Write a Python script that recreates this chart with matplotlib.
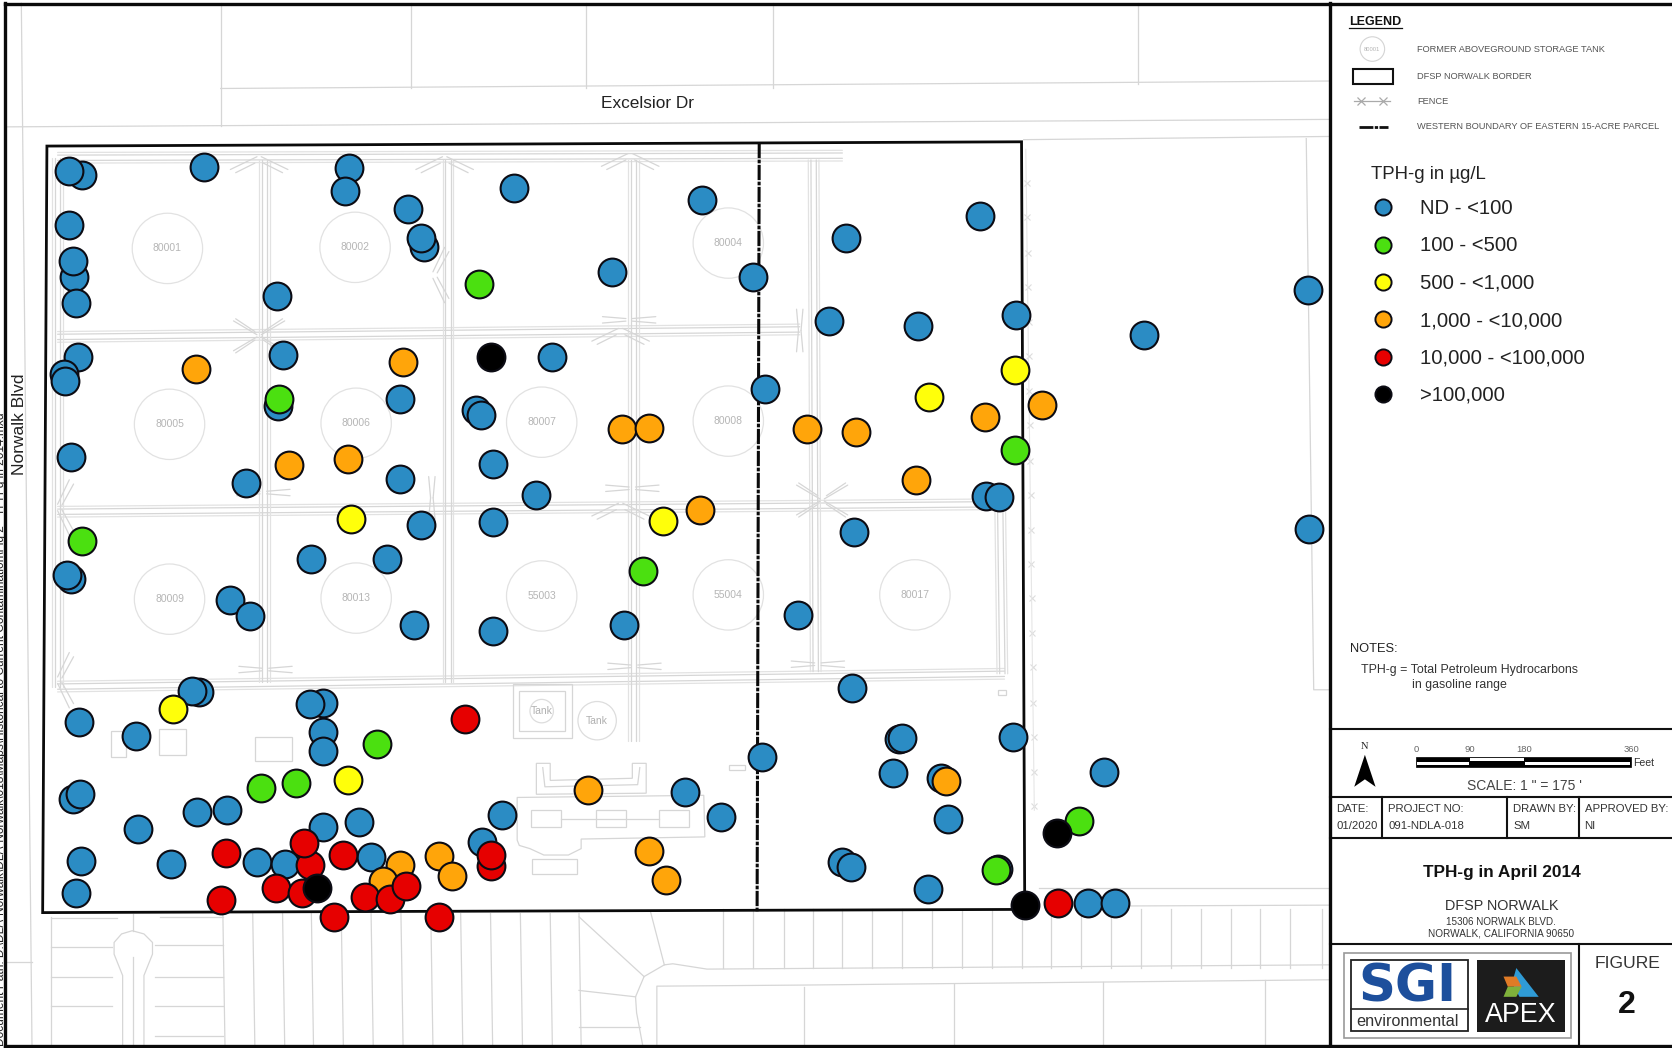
"""
TPH-g in April 2014 at DFSP Norwalk: well locations over a pale site plan.
Map coordinates below are read off the figure.
"""

import matplotlib

matplotlib.use("Agg")
import matplotlib.pyplot as plt
from matplotlib.patches import Circle, Polygon, Rectangle

plt.rcParams["font.family"] = ["Liberation Sans", "DejaVu Sans"]

W, H = 1568, 983

BLUE_X = [77, 65, 191, 327, 324, 383, 398, 395, 482, 658, 793, 919, 574, 706, 65, 69, 68, 71, 260, 1227,
          953, 777, 861, 1073, 73, 60, 61, 265, 518, 375, 261, 446, 451, 717, 67, 231, 375, 462, 503, 925,
          937, 395, 462, 801, 1228, 292, 363, 67, 63, 216, 234, 388, 462, 585, 748, 799, 187, 180, 74, 128,
          303, 291, 303, 303, 843, 846, 950, 715, 837, 1035, 882, 68, 75, 129, 185, 213, 303, 337, 471, 642,
          676, 889, 452, 76, 160, 241, 267, 348, 790, 798, 71, 870, 936, 1020, 1046]
BLUE_Y = [164, 160, 157, 158, 179, 196, 232, 223, 176, 188, 223, 203, 255, 260, 211, 260, 245, 284, 278, 272,
          295, 301, 306, 314, 335, 351, 357, 333, 335, 374, 381, 385, 389, 365, 429, 453, 449, 435, 464, 465,
          466, 492, 490, 499, 496, 524, 524, 543, 539, 563, 578, 586, 592, 586, 577, 645, 649, 648, 677, 690,
          659, 660, 687, 704, 693, 692, 691, 710, 725, 724, 730, 749, 745, 778, 762, 760, 776, 771, 764, 743,
          766, 768, 790, 808, 810, 809, 810, 804, 809, 813, 838, 834, 815, 847, 847]
GREEN_X = [449, 262, 77, 952, 603, 354, 245, 278, 1012, 934]
GREEN_Y = [266, 374, 507, 422, 536, 698, 739, 734, 770, 816]
YELLOW_X = [952, 871, 329, 622, 162, 326]
YELLOW_Y = [347, 372, 487, 489, 665, 732]
ORANGE_X = [184, 378, 977, 924, 583, 609, 757, 803, 271, 326, 859, 656, 551, 887, 609, 625, 412, 424, 375, 359]
ORANGE_Y = [346, 340, 380, 391, 402, 401, 402, 405, 436, 431, 450, 478, 741, 733, 798, 825, 803, 822, 811, 826]
RED_X = [436, 212, 291, 285, 322, 460, 460, 259, 283, 207, 342, 366, 381, 313, 412, 992]
RED_Y = [674, 800, 811, 791, 802, 812, 802, 833, 838, 844, 841, 843, 831, 860, 860, 847]
BLACK_X = [460, 991, 297, 961]
BLACK_Y = [335, 781, 833, 849]

CLASS_LABELS = ["ND - <100", "100 - <500", "500 - <1,000", "1,000 - <10,000", "10,000 - <100,000", ">100,000"]
CLASS_COLORS = ["#2b8cc4", "#4be010", "#ffff0a", "#ffa50a", "#e60000", "#000000"]

TANK_NAMES = ["80001", "80002", "80004", "80005", "80006", "80007", "80008", "80009", "80013", "55003", "55004", "80017"]
TANK_X = [157, 333, 683, 159, 334, 508, 683, 159, 334, 508, 683, 858]
TANK_Y = [233, 232, 228, 398, 397, 396, 395, 562, 561, 559, 558, 558]

SITE_BORDER = [(44, 137), (958, 133), (961, 853), (40, 856)]

# double fence runs: x0, y0, x1, y1
FENCES = [
    (54, 148, 790, 146), (54, 316, 750, 309), (54, 480, 935, 473), (54, 644, 942, 632),
    (54, 148, 54, 644), (248, 150, 248, 640), (420, 150, 420, 640), (594, 150, 594, 695),
    (763, 150, 765, 630), (938, 476, 940, 632),
]
ARROW_GATES = [(243, 155), (417, 155), (591, 152), (582, 316), (582, 480)]
BAR_GATES = [(247, 462), (593, 458), (249, 628), (595, 625), (767, 623), (590, 300)]
STAR_GATES = [(243, 315), (771, 469)]
SIDE_GATES = [(60, 476), (60, 638), (412, 258)]
POST_GATES = [(750, 310), (405, 467)]
EAST_FENCE_Y = [172, 204, 237, 269, 302, 334, 367, 399, 432, 464, 497, 529, 561, 594, 626, 659, 691, 724, 756]

ROAD_LINES = [
    [(20, 3), (30, 981)], [(5, 902), (30, 902)],
    [(207, 3), (207, 118)], [(385, 3), (385, 83)], [(550, 3), (550, 83)],
    [(725, 3), (725, 83)], [(1067, 3), (1067, 79)], [(207, 83), (1246, 76)], [(5, 119), (1246, 112)],
    [(960, 131), (1246, 128)], [(1225, 130), (1232, 647), (1246, 647)],
    [(974, 833), (1246, 833)], [(1000, 850), (1246, 849)],
    [(1246, 905), (663, 909), (631, 904), (623, 905), (604, 916), (596, 935), (597, 950), (603, 982)],
    [(616, 982), (616, 925), (750, 924), (1246, 919)],
    [(543, 860), (604, 916)], [(610, 855), (623, 905)], [(543, 929), (596, 935)], [(543, 963), (600, 963)],
    [(754, 926), (754, 981)], [(895, 923), (895, 981)], [(1034, 921), (1034, 981)], [(1186, 919), (1186, 981)],
    [(48, 860), (48, 981)], [(48, 861), (110, 861)], [(48, 888), (105, 888)], [(48, 916), (105, 916)],
    [(48, 944), (105, 944)], [(150, 860), (209, 860)], [(145, 886), (209, 886)], [(145, 916), (209, 916)],
    [(145, 944), (209, 944)], [(145, 972), (209, 972)],
    [(115, 981), (115, 915), (107, 895), (107, 884), (114, 876), (124, 873), (135, 876), (143, 884),
     (143, 895), (135, 915), (135, 981)],
    [(125, 857), (125, 873)], [(125, 898), (125, 981)],
]
LOT_LINE_X = [209, 237, 265, 292, 320, 348, 376, 404, 432, 460, 488, 516, 543]
EAST_LOT_X = [678, 706, 735, 762, 790, 818, 846, 874, 902, 930, 958, 986, 1014, 1042, 1070, 1098, 1126, 1154, 1182, 1210, 1240]

BUILDINGS = [
    (104, 686, 14, 24), (149, 684, 25, 24), (239, 691, 35, 23), (498, 760, 28, 16), (559, 760, 28, 16),
    (618, 760, 28, 16), (684, 718, 15, 4), (499, 806, 42, 14), (936, 647, 7, 5),
]
PLANT_OUTLINE = [(485, 748), (660, 746), (661, 785), (545, 787), (545, 796), (533, 802), (510, 802),
                 (497, 796), (487, 793), (485, 788)]
BERM_OUTLINE = [(503, 716), (516, 716), (516, 732), (593, 730), (593, 716), (606, 716), (606, 744), (503, 745)]
BERM_INNER = [(509, 720), (511, 738), (598, 736), (600, 720)]
TANK_PAD = [(481, 642), (536, 642), (536, 692), (481, 692)]

GREY = "#d6d6d6"
PALE = "#e2e2e2"


def seg(ax, x0, y0, x1, y1, color=GREY):
    ax.plot([x0, x1], [y0, y1], color=color, lw=0.9, zorder=1, solid_capstyle="round")


def fence(ax, x0, y0, x1, y1):
    vertical = abs(y1 - y0) > abs(x1 - x0)
    for off, col in ((-5, PALE), (-2.5, GREY), (2.5, GREY), (5, PALE)):
        dx, dy = (off, 0) if vertical else (0, off)
        seg(ax, x0 + dx, y0 + dy, x1 + dx, y1 + dy, col)


def draw_gates(ax):
    # white gaps first so the gate shapes read over the fence lines
    for x, y in ARROW_GATES:
        for s in (-1, 1):
            seg(ax, x + s * 2, y - 8, x + s * 27, y + 4)
            seg(ax, x + s * 4, y - 2, x + s * 22, y + 7)
    for x, y in BAR_GATES:
        for dy in (-3, 3):
            seg(ax, x - 25, y + dy, x - 3, y + dy * 0.4)
            seg(ax, x + 3, y + dy * 0.4, x + 25, y + dy)
    for x, y in STAR_GATES:
        for sx in (-1, 1):
            for sy in (-1, 1):
                seg(ax, x + sx * 2, y + sy, x + sx * 24, y + sy * 14)
                seg(ax, x + sx * 4, y + sy * 4, x + sx * 22, y + sy * 16)
    for x, y in SIDE_GATES:
        for s in (-1, 1):
            seg(ax, x - 6, y + s * 3, x + 5, y + s * 26)
            seg(ax, x - 2, y + s * 2, x + 9, y + s * 22)
    for x, y in POST_GATES:
        for dx in (-3, 3):
            seg(ax, x + dx, y - 20, x + dx * 0.4, y)
            seg(ax, x + dx * 0.4, y, x + dx, y + 20)


def draw_base_map(ax):
    for line in ROAD_LINES:
        ax.plot([p[0] for p in line], [p[1] for p in line], color=GREY, lw=0.9, zorder=1)
    for x in LOT_LINE_X:
        ax.plot([x, x + 2], [857, 981], color=GREY, lw=0.9, zorder=1)
    for x in EAST_LOT_X:
        ax.plot([x, x], [853, 908], color=GREY, lw=0.9, zorder=1)
    for f in FENCES:
        fence(ax, *f)
    draw_gates(ax)
    ax.plot([963 + (y - 172) * 0.012 for y in EAST_FENCE_Y], EAST_FENCE_Y, ls="", marker="x", ms=5,
            mec="#dddddd", mew=0.8, zorder=1)
    ax.plot([962, 970], [140, 760], color="#e6e6e6", lw=0.8, zorder=1)

    for name, x, y in zip(TANK_NAMES, TANK_X, TANK_Y):
        ax.add_patch(Circle((x, y), 33, fc="white", ec="#e2e2e2", lw=0.9, zorder=1.5))
        ax.text(x, y, name, color="#b5b5b5", fontsize=7.5, ha="center", va="center", zorder=1.6)
    ax.add_patch(Circle((560, 676), 18, fc="none", ec="#dddddd", lw=0.9, zorder=1))
    ax.add_patch(Circle((508, 667), 11, fc="none", ec="#dddddd", lw=0.9, zorder=1))
    ax.text(560, 676, "Tank", color="#b0b0b0", fontsize=7.5, ha="center", va="center", zorder=1)
    ax.text(508, 667, "Tank", color="#b0b0b0", fontsize=7.5, ha="center", va="center", zorder=1)

    for x, y, w, h in BUILDINGS:
        ax.add_patch(Rectangle((x, y), w, h, fc="none", ec=GREY, lw=0.9, zorder=1))
    ax.plot([526, 559, 587, 618], [768, 768, 768, 768], color=GREY, lw=0.9, zorder=1)
    for outline in (PLANT_OUTLINE, BERM_OUTLINE, TANK_PAD):
        ax.add_patch(Polygon(outline, closed=True, fc="none", ec=GREY, lw=0.9, zorder=1))
    ax.plot([p[0] for p in BERM_INNER], [p[1] for p in BERM_INNER], color=GREY, lw=0.9, zorder=1)
    ax.add_patch(Rectangle((487, 648), 43, 38, fc="none", ec=GREY, lw=0.9, zorder=1))

    ax.text(607, 97, "Excelsior Dr", fontsize=12.4, color="#222222", ha="center", va="center", zorder=2)
    ax.text(18, 398, "Norwalk Blvd", fontsize=12.5, color="#222222", rotation=90, ha="center", va="center", zorder=2)
    ax.text(3.5, 981, r"Document Path: D:\DLA-Norwalk\DLA-Norwalk\018\Maps\Historical to Current Contamination\Fig 2 - TPH-g in 2014.mxd",
            fontsize=8.6, color="#222222", rotation=90, ha="left", va="baseline", rotation_mode="anchor", zorder=2)

    ax.add_patch(Polygon(SITE_BORDER, closed=True, fc="none", ec="#0a0a0a", lw=2.0, zorder=3))
    ax.plot([712, 710], [134, 855], color="#0a0a0a", lw=2.2, ls=(0, (5, 0.5, 1.2, 0.5)), zorder=3)


def draw_wells(ax):
    series = [(BLUE_X, BLUE_Y), (GREEN_X, GREEN_Y), (YELLOW_X, YELLOW_Y),
              (ORANGE_X, ORANGE_Y), (RED_X, RED_Y), (BLACK_X, BLACK_Y)]
    for i, (xs, ys) in enumerate(series):
        ax.scatter(xs, ys, s=400, c=CLASS_COLORS[i], edgecolors="#0c0c14", linewidths=1.5, zorder=4 + i)


def draw_legend(ax):
    ax.text(1265, 20.5, "LEGEND", fontsize=9, fontweight="bold", color="#111111", va="center")
    ax.plot([1265, 1315], [26, 26], color="#111111", lw=0.9)
    labels = ["FORMER ABOVEGROUND STORAGE TANK", "DFSP NORWALK BORDER", "FENCE",
              "WESTERN BOUNDARY OF EASTERN 15-ACRE PARCEL"]
    for label, y in zip(labels, [46.5, 72, 95.5, 118.5]):
        ax.text(1329, y, label, fontsize=6.7, color="#555555", va="center")
    ax.add_patch(Circle((1287, 46), 11.5, fc="none", ec="#d4d4d4", lw=0.8))
    ax.text(1287, 46, "80001", fontsize=4.2, color="#b5b5b5", ha="center", va="center")
    ax.add_patch(Rectangle((1269, 65), 37, 14, fc="none", ec="#111111", lw=1.5))
    ax.plot([1270, 1304], [95, 95], color="#aaaaaa", lw=0.9)
    ax.plot([1276, 1297], [95, 95], ls="", marker="x", ms=6, mec="#aaaaaa", mew=0.9)
    ax.plot([1274, 1302], [119, 119], color="#111111", lw=2, ls=(0, (5, 0.5, 1.2, 0.5)))

    ax.text(1286, 164, "TPH-g in µg/L", fontsize=13.4, color="#222222", va="center")
    for i, label in enumerate(CLASS_LABELS):
        y = 194.5 + i * 35
        ax.scatter([1297], [y], s=135, c=CLASS_COLORS[i], edgecolors="#0c0c14", linewidths=1.4, zorder=5)
        ax.text(1332, y + 1.2, label, fontsize=14.6, color="#222222", va="center")

    ax.text(1266, 609, "NOTES:", fontsize=9.3, color="#222222", va="center")
    ax.text(1276, 628.5, "TPH-g = Total Petroleum Hydrocarbons", fontsize=8.9, color="#333333", va="center")
    ax.text(1324, 642.5, "in gasoline range", fontsize=8.9, color="#333333", va="center")


def draw_title_block(ax):
    for y in (684, 748, 786, 885):
        ax.plot([1247, W], [y, y], color="#111111", lw=1.5)
    for x, y0, y1 in ((1296, 748, 786), (1413, 748, 786), (1481, 748, 786), (1481, 885, 981)):
        ax.plot([x, x], [y0, y1], color="#111111", lw=1.5)

    ax.text(1280, 700, "N", family="Liberation Serif", fontsize=7.5, ha="center", va="center", color="#222222")
    ax.add_patch(Polygon([(1280, 708), (1290, 738), (1280, 731), (1270, 738)], closed=True, fc="black", ec="none"))
    ax.add_patch(Rectangle((1328, 710), 202, 9, fc="black", ec="black", lw=0.5))
    ax.add_patch(Rectangle((1329, 715), 49, 3, fc="white", ec="none"))
    ax.add_patch(Rectangle((1379, 711), 50, 3, fc="white", ec="none"))
    ax.add_patch(Rectangle((1430, 715), 99, 3, fc="white", ec="none"))
    for tick, x in zip(["0", "90", "180", "360"], [1328, 1378, 1429, 1530]):
        ax.text(x, 703, tick, fontsize=6.8, color="#666666", ha="center", va="center")
    ax.text(1532, 716, "Feet", fontsize=7.6, color="#333333", va="center")
    ax.text(1430, 737, "SCALE: 1 \" = 175 '", fontsize=10, color="#444444", ha="center", va="center")

    cells = [(1253, 759, "DATE:"), (1253, 775, "01/2020"), (1302, 759, "PROJECT NO:"), (1302, 775, "091-NDLA-018"),
             (1419, 759, "DRAWN BY:"), (1419, 775, "SM"), (1486, 759, "APPROVED BY:"), (1486, 775, "NI")]
    for x, y, s in cells:
        ax.text(x, y, s, fontsize=8.2, color="#333333", va="center")

    ax.text(1408, 818, "TPH-g in April 2014", fontsize=12.4, fontweight="bold", color="#111111", ha="center", va="center")
    ax.text(1408, 850, "DFSP NORWALK", fontsize=10.4, color="#333333", ha="center", va="center")
    ax.text(1408, 865, "15306 NORWALK BLVD.", fontsize=7.1, color="#333333", ha="center", va="center")
    ax.text(1408, 876, "NORWALK, CALIFORNIA 90650", fontsize=7.2, color="#333333", ha="center", va="center")

    ax.text(1526, 904, "FIGURE", fontsize=12.6, color="#333333", ha="center", va="center")
    ax.text(1526, 943, "2", fontsize=23, fontweight="bold", color="#111111", ha="center", va="center")

    # logos
    ax.add_patch(Rectangle((1260, 894), 213, 80, fc="none", ec="#999999", lw=1.2))
    ax.add_patch(Rectangle((1267, 900), 110, 67, fc="white", ec="#222222", lw=1.3))
    ax.plot([1267, 1377], [946, 946], color="#222222", lw=1.2)
    ax.text(1320, 926, "SGI", family="DejaVu Sans", fontsize=37, fontweight="bold", color="#1d4f9c", ha="center", va="center")
    ax.text(1320, 958, "environmental", fontsize=11.7, color="#333333", ha="center", va="center")
    ax.add_patch(Rectangle((1385, 900), 83, 68, fc="#1c1c1c", ec="none"))
    ax.add_patch(Polygon([(1422, 908), (1443, 935), (1425, 935), (1418, 922)], closed=True, fc="#2f9bd6", ec="none"))
    ax.add_patch(Polygon([(1410, 916), (1422, 916), (1427, 925.5), (1414, 925.5)], closed=True, fc="#e07b26", ec="none"))
    ax.add_patch(Polygon([(1414, 925.5), (1427, 925.5), (1422, 935), (1410, 935)], closed=True, fc="#7fb13b", ec="none"))
    ax.text(1426, 952, "APEX", fontsize=19.4, color="white", ha="center", va="center")


def main():
    fig = plt.figure(figsize=(16.72, 10.48), dpi=100)
    ax = fig.add_axes([0, 0, 1, 1])
    ax.set_xlim(0, W)
    ax.set_ylim(H, 0)
    ax.axis("off")

    draw_base_map(ax)
    draw_wells(ax)
    ax.add_patch(Rectangle((1247, 4), W - 1247, 976, fc="white", ec="none", zorder=0.5))
    draw_legend(ax)
    draw_title_block(ax)

    # sheet frame
    ax.plot([5, 5], [3, 981], color="#0a0a0a", lw=2.4, zorder=12)
    ax.plot([5, W], [3.5, 3.5], color="#0a0a0a", lw=2.4, zorder=12)
    ax.plot([5, W], [981, 981], color="#0a0a0a", lw=2.4, zorder=12)
    ax.plot([1247, 1247], [3, 981], color="#0a0a0a", lw=2.4, zorder=12)

    fig.savefig("out.png", dpi=100)


if __name__ == "__main__":
    main()
